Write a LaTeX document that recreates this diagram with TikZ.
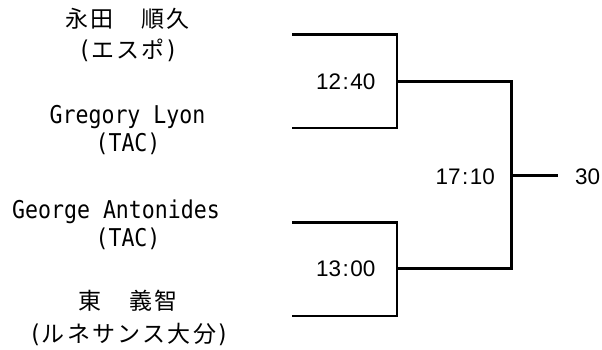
\documentclass[tikz,border=0pt]{standalone}
\usepackage{fontspec}
\setmainfont{Liberation Sans}
\newfontfamily\monolab[FakeStretch=0.88]{DejaVu Sans Mono}
\newfontfamily\jplab[LetterSpace=10]{Noto Sans CJK JP}
\newcommand\jpt[1]{{\jplab\fontsize{23}{26}\selectfont #1}}
\tikzset{
  plabel/.style={anchor=base, inner sep=0pt, font=\monolab\fontsize{24.5}{28}\selectfont},
  score/.style={anchor=base, inner sep=0pt, font=\fontsize{22.5}{26}\selectfont},
  wire/.style={line width=2.7pt, line join=miter, line cap=butt}
}
\begin{document}
\begin{tikzpicture}[x=1pt, y=-1pt]
\useasboundingbox (0,0) rectangle (602,349);
% labels
\node[plabel] (n1) at (127.5,27.6) {\jpt{永田　順久}};
\node[plabel] (a1) at (128,58.4) {(\jpt{エスポ})};
\node[plabel] (n2) at (127.5,123.3) {Gregory Lyon};
\node[plabel] (a2) at (128,151.5) {(TAC)};
\node[plabel] (n3) at (116,218.3) {George Antonides};
\node[plabel] (a3) at (128,246.6) {(TAC)};
\node[plabel] (n4) at (128,309.9) {\jpt{東　義智}};
\node[plabel] (a4) at (129,342.4) {(\jpt{ルネサンス大分})};
% bracket coordinates
\coordinate (p1) at (292,34.3);
\coordinate (k1) at (397,128);
\coordinate (p2) at (292,128);
\coordinate (m1) at (397,81.3);
\coordinate (p3) at (292,222.3);
\coordinate (k2) at (397,316);
\coordinate (p4) at (292,316);
\coordinate (m2) at (397,268.7);
\coordinate (f1) at (511.3,175.3);
\coordinate (w) at (558,175.3);
\draw[wire] (p1) -| (k1) -- (p2);
\draw[wire] (p3) -| (k2) -- (p4);
\draw[wire] (m1) -| (f1) |- (m2);
\draw[wire] (f1) -- (w);
% scores
\node[score] (s1) at (345.7,89.3) {12\kern1.5pt:\kern1.5pt40};
\node[score] (s2) at (345.7,276.7) {13\kern1.5pt:\kern1.5pt00};
\node[score] (s3) at (465.3,184) {17\kern1.5pt:\kern1.5pt10};
\node[score, anchor=base west] (s4) at (575,184) {30};
\end{tikzpicture}
\end{document}
